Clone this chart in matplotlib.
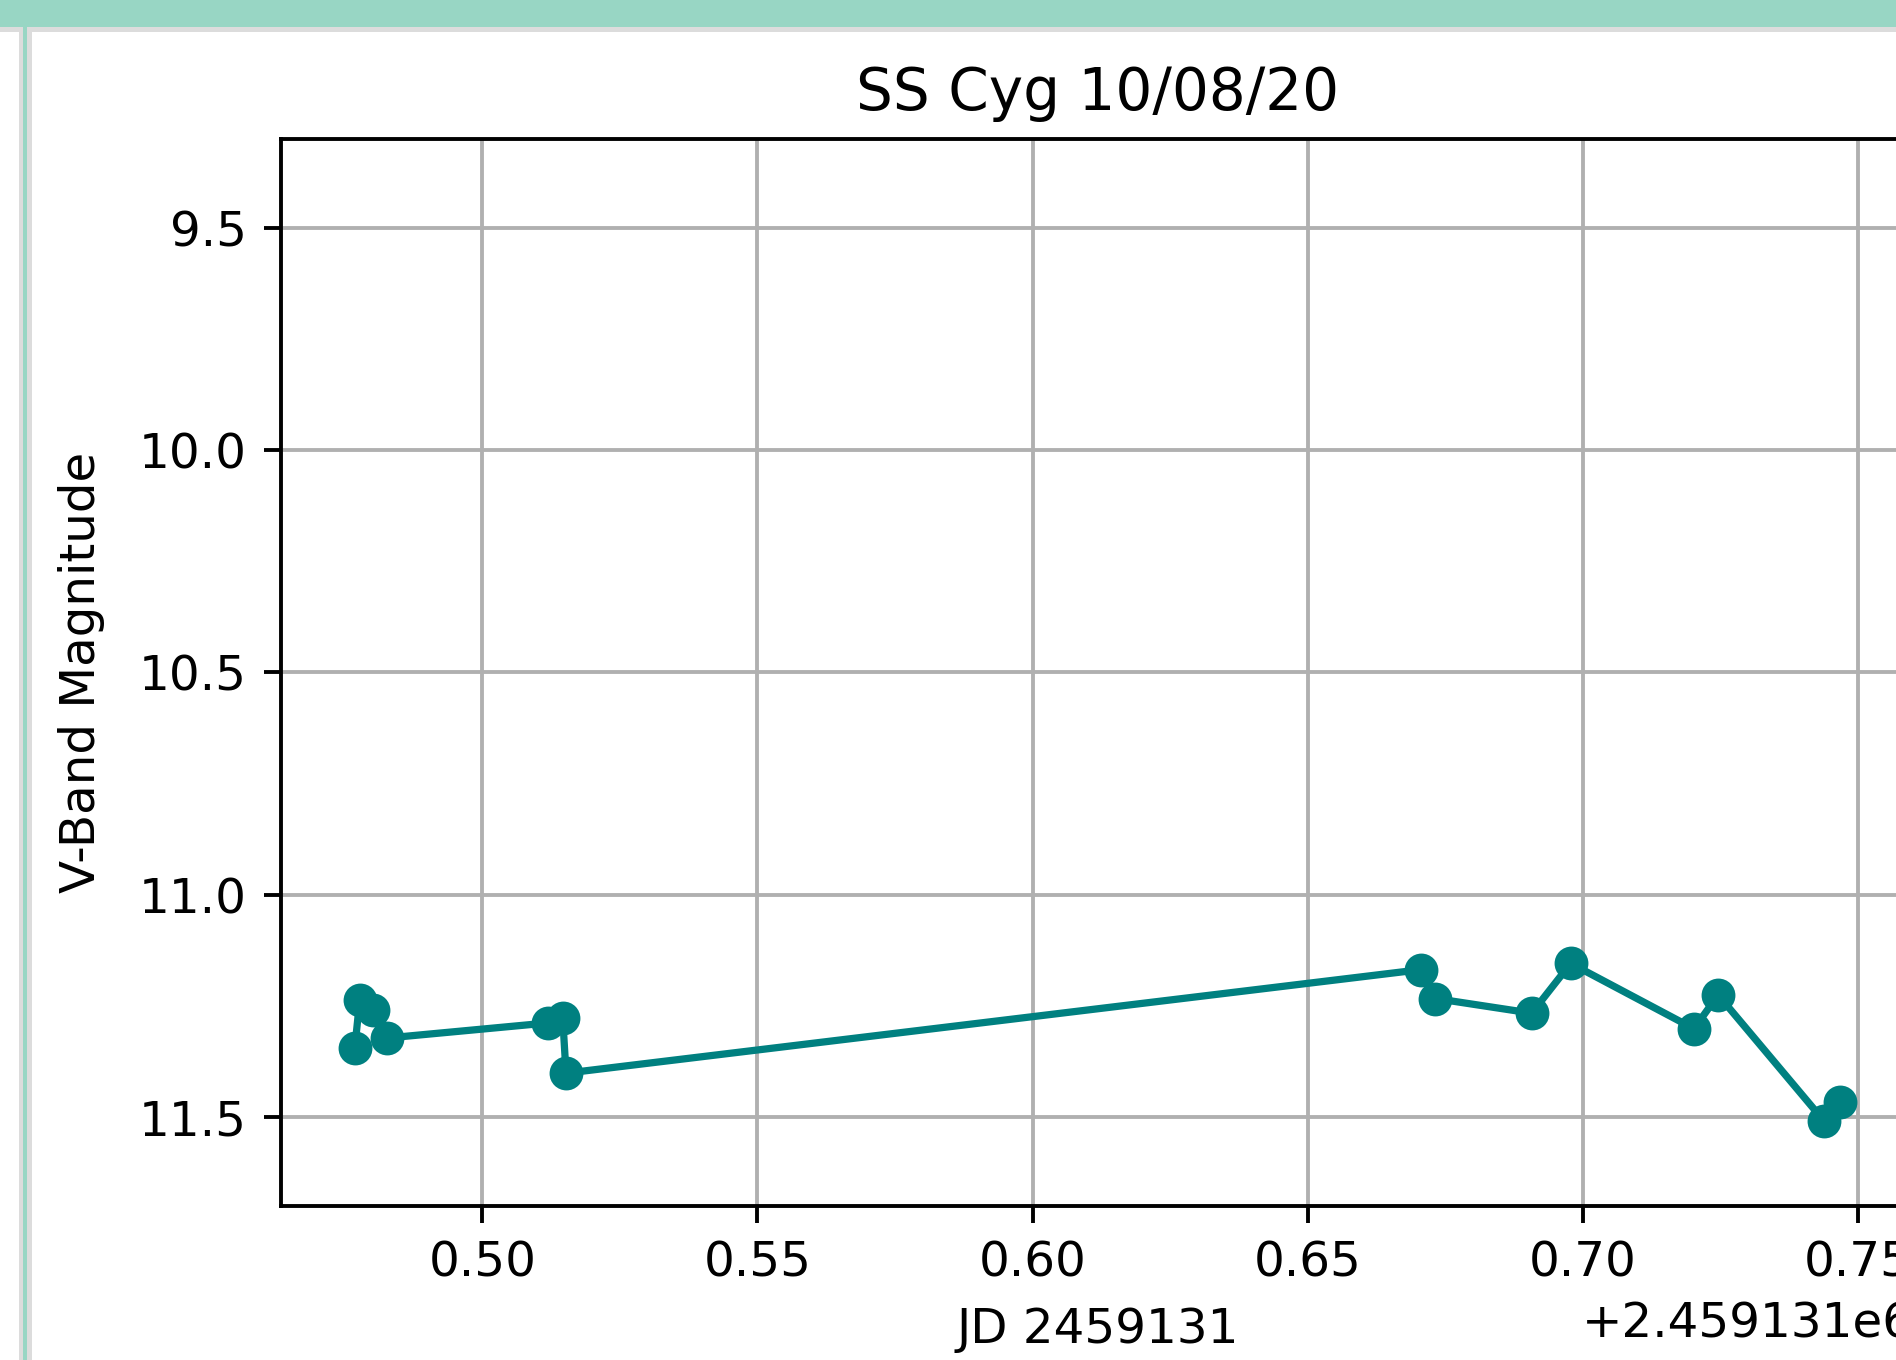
import matplotlib
matplotlib.use("Agg")
import matplotlib.pyplot as plt
from matplotlib.patches import Rectangle
import numpy as np

# observation times (fraction of day after JD 2459131) and V magnitudes
jd_base = 2459131
jd_frac = [0.4768, 0.4777, 0.4802, 0.4826, 0.5119, 0.5146, 0.5152,
           0.6706, 0.6732, 0.6907, 0.6978, 0.7202, 0.7246, 0.7438, 0.7467]
vmag = [11.346, 11.238, 11.260, 11.323, 11.289, 11.278, 11.402,
        11.169, 11.234, 11.267, 11.155, 11.302, 11.226, 11.509, 11.468]

title = "SS Cyg 10/08/20"
xlabel = "JD 2459131"
ylabel = "V-Band Magnitude"

W, H = 1896, 1360
dpi = 348
fig = plt.figure(figsize=(W / dpi, H / dpi), dpi=dpi)
fig.patch.set_facecolor("white")


def box(x0, y0, x1, y1, color):
    # pixel box (from top-left) -> figure fraction rectangle
    fig.add_artist(Rectangle((x0 / W, 1 - y1 / H), (x1 - x0) / W, (y1 - y0) / H,
                             transform=fig.transFigure, facecolor=color,
                             edgecolor="none", zorder=0))


# screenshot frame: top bar and left border
box(0, 0, W, 27, "#98d6c4")
box(0, 27, W, 32, "#dcdcdc")
box(19, 27, 32, H, "#dcdcdc")
box(23, 27, 27, H, "#98d6c4")

ax = fig.add_axes([280.5 / W, 1 - 1205.6 / H, (1914 - 280.5) / W, (1205.6 - 139) / H])
x = np.array(jd_frac) + jd_base
ax.plot(x, vmag, "o-", color="teal")
ax.set_ylim(11.7, 9.3)
ax.grid(True)
ax.set_title(title)
ax.set_xlabel(xlabel)
ax.set_ylabel(ylabel, labelpad=7)

fig.savefig("out.png", dpi=dpi)
